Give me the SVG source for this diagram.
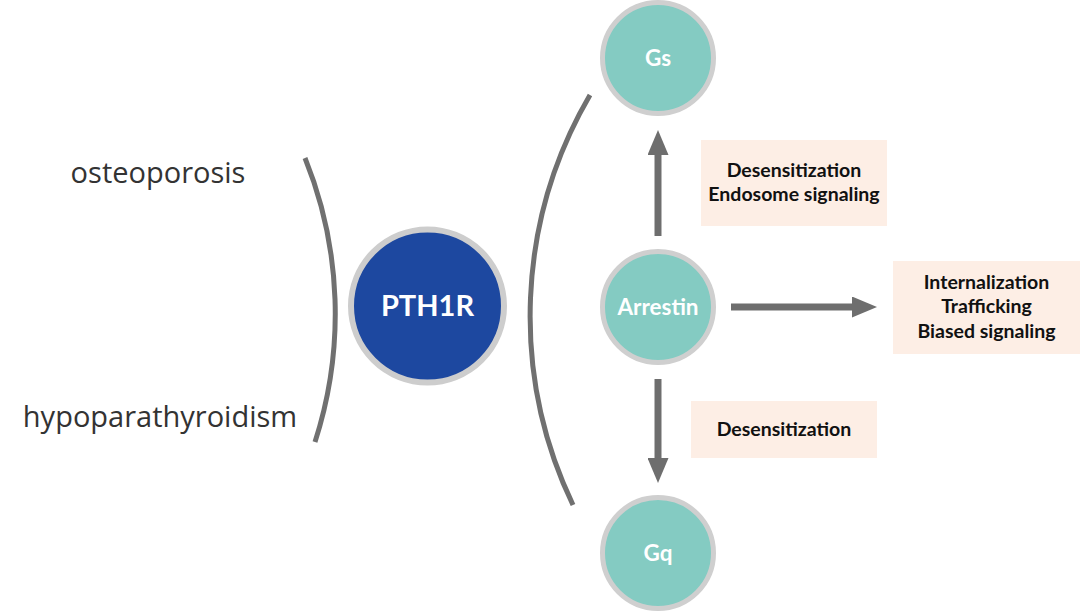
<svg xmlns="http://www.w3.org/2000/svg" width="1080" height="611" viewBox="0 0 1080 611">
<style>
.disease{font-family:"Open Sans","Liberation Sans",sans-serif;font-size:29px;fill:#333333;text-anchor:middle}
.ring{stroke:#cfcfcf;stroke-width:5}
.teal{fill:#84cbc2}
.nodeLabel{font-family:Lato,"Liberation Sans",sans-serif;font-weight:bold;fill:#ffffff;text-anchor:middle}
.box{fill:#fdeee5}
.boxText{font-family:Lato,"Liberation Sans",sans-serif;font-weight:bold;font-size:19.5px;fill:#111111;text-anchor:middle}
.arc{fill:none;stroke:#707070;stroke-width:5}
.arrow{stroke:#6e6e6e;stroke-width:7;fill:none}
</style>
<defs>
<marker id="head" markerUnits="userSpaceOnUse" markerWidth="25" markerHeight="21" refX="0" refY="10.5" orient="auto" viewBox="0 0 25 21">
<path d="M0,0 L25,10.5 L0,21 z" fill="#6e6e6e"/>
</marker>
</defs>
<rect width="1080" height="611" fill="#ffffff"/>
<g id="diseases">
<text class="disease" x="158" y="183">osteoporosis</text>
<text class="disease" x="160" y="427">hypoparathyroidism</text>
</g>
<g id="brackets">
<path class="arc" d="M305,158 A416,416 0 0 1 315,442"/>
<path class="arc" d="M590,95 A438,438 0 0 0 573,505"/>
</g>
<g id="connectors">
<line class="arrow" x1="658" y1="236" x2="658" y2="155" marker-end="url(#head)"/>
<line class="arrow" x1="731" y1="307" x2="852" y2="307" marker-end="url(#head)"/>
<line class="arrow" x1="658" y1="379" x2="658" y2="458" marker-end="url(#head)"/>
</g>
<g id="PTH1R">
<circle cx="427.5" cy="306" r="76.5" fill="#1d48a0" stroke="#cdcdcd" stroke-width="6"/>
<text class="nodeLabel" x="427.5" y="316" font-size="29">PTH1R</text>
</g>
<g id="Gs">
<circle class="teal ring" cx="658" cy="58" r="55.5"/>
<text class="nodeLabel" x="658" y="66" font-size="22.5">Gs</text>
</g>
<g id="Arrestin">
<circle class="teal ring" cx="658" cy="307" r="55.5"/>
<text class="nodeLabel" x="658" y="315" font-size="22.5">Arrestin</text>
</g>
<g id="Gq">
<circle class="teal ring" cx="658" cy="553" r="55.5"/>
<text class="nodeLabel" x="658" y="561" font-size="22.5">Gq</text>
</g>
<g id="box-gs">
<rect class="box" x="701" y="140" width="186" height="86"/>
<text class="boxText" x="794" y="177">Desensitization</text>
<text class="boxText" x="794" y="201">Endosome signaling</text>
</g>
<g id="box-arrestin">
<rect class="box" x="893" y="261" width="187" height="93"/>
<text class="boxText" x="986.5" y="289">Internalization</text>
<text class="boxText" x="986.5" y="313">Trafficking</text>
<text class="boxText" x="986.5" y="338">Biased signaling</text>
</g>
<g id="box-gq">
<rect class="box" x="691" y="401" width="186" height="57"/>
<text class="boxText" x="784" y="436">Desensitization</text>
</g>
</svg>
